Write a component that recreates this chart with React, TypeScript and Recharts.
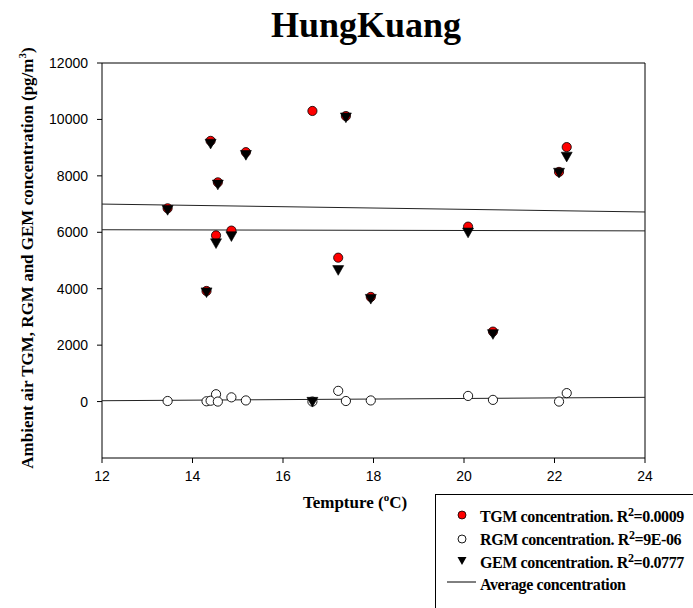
import React from "react";
import {
  ScatterChart,
  Scatter,
  XAxis,
  YAxis,
  ReferenceLine,
  Legend,
} from "recharts";

// Temperature (°C) of each sampling event
const temps = [13.45, 14.31, 14.4, 14.52, 14.56, 14.86, 15.18, 16.65, 17.22, 17.39, 17.94, 20.09, 20.64, 22.1, 22.27];
// Concentrations (pg/m3)
const tgm = [6850, 3920, 9240, 5890, 7770, 6060, 8840, 10300, 5100, 10120, 3710, 6200, 2480, 8140, 9020];
const rgm = [20, 10, 30, 260, 0, 150, 40, 0, 380, 20, 40, 200, 60, 0, 300];
const gem = [6800, 3880, 9150, 5620, 7700, 5870, 8750, 0, 4670, 10080, 3650, 6000, 2400, 8120, 8690];

// Average / trend lines (start and end values at x = 12 and x = 24)
const lineX = [12, 24];
const avgLineA = [7000, 6720];
const avgLineB = [6090, 6050];
const avgLineC = [30, 150];

const xTicks = [12, 14, 16, 18, 20, 22, 24];
const yTicks = [0, 2000, 4000, 6000, 8000, 10000, 12000];

const legendLabels = [
  { name: "TGM concentration. R", r2: "=0.0009" },
  { name: "RGM concentration. R", r2: "=9E-06" },
  { name: "GEM concentration. R", r2: "=0.0777" },
];

const toPoints = (xs: number[], ys: number[]) => xs.map((x, i) => ({ x, y: ys[i] }));

const tgmData = toPoints(temps, tgm);
const rgmData = toPoints(temps, rgm);
const gemData = toPoints(temps, gem);
const lineAData = toPoints(lineX, avgLineA);
const lineBData = toPoints(lineX, avgLineB);
const lineCData = toPoints(lineX, avgLineC);

const SERIF = "'Liberation Serif', 'Times New Roman', serif";
const SANS = "'Liberation Sans', Arial, sans-serif";

const RedDot = (p: any) => (
  <circle cx={p.cx} cy={p.cy} r={4.6} fill="#ff0000" stroke="#000" strokeWidth={0.8} />
);
const OpenDot = (p: any) => (
  <circle cx={p.cx} cy={p.cy} r={4.6} fill="#fff" stroke="#000" strokeWidth={0.9} />
);
const Tri = (p: any) => (
  <path
    d={`M${p.cx - 5.5},${p.cy - 4.2} L${p.cx + 5.5},${p.cy - 4.2} L${p.cx},${p.cy + 5.5} Z`}
    fill="#000"
    stroke="#000"
    strokeWidth={0.6}
  />
);
const NoShape = () => <g />;

const LegendBox = () => (
  <div
    style={{
      position: "absolute",
      left: 435,
      top: 494,
      width: 280,
      height: 140,
      border: "1px solid #000",
      boxSizing: "border-box",
      background: "#fff",
    }}
  >
    <svg width={280} height={140} style={{ position: "absolute", left: -1, top: -1 }}>
      <circle cx={27} cy={21} r={4} fill="#ff0000" stroke="#000" strokeWidth={0.8} />
      <circle cx={27} cy={45} r={4} fill="#fff" stroke="#000" strokeWidth={0.9} />
      <path d="M22.5,63 L31.5,63 L27,71 Z" fill="#000" />
      <line x1={12} x2={41} y1={88} y2={88} stroke="#000" strokeWidth={1} />
      {legendLabels.map((l, i) => (
        <text
          key={l.name}
          x={45}
          y={28 + i * 23}
          fontFamily={SERIF}
          fontWeight="bold"
          fontSize={16}
          letterSpacing={-0.4}
          fill="#000"
        >
          {l.name}
          <tspan fontSize={12} dy={-6}>2</tspan>
          <tspan dy={6}>{l.r2}</tspan>
        </text>
      ))}
      <text x={45} y={96} fontFamily={SERIF} fontWeight="bold" fontSize={16} letterSpacing={-0.4} fill="#000">
        Average concentration
      </text>
    </svg>
  </div>
);

export default function App() {
  return (
    <div
      style={{
        position: "absolute",
        left: 0,
        top: 0,
        width: 693,
        height: 608,
        overflow: "hidden",
        background: "#fff",
      }}
    >
      <div
        style={{
          position: "absolute",
          left: 266,
          top: 3,
          width: 200,
          textAlign: "center",
          fontFamily: SERIF,
          fontWeight: "bold",
          fontSize: 36,
          lineHeight: "44px",
          color: "#000",
        }}
      >
        HungKuang
      </div>
      <ScatterChart
        width={693}
        height={608}
        margin={{ top: 63, right: 48, bottom: 0, left: 0 }}
      >
        <XAxis
          type="number"
          dataKey="x"
          domain={[12, 24]}
          ticks={xTicks}
          allowDataOverflow
          height={150}
          tickSize={5}
          tickMargin={8}
          stroke="#000"
          tick={{ fill: "#000", fontSize: 14, fontFamily: SANS }}
          label={{
            content: () => (
              <text x={355} y={508} textAnchor="middle" fontFamily={SERIF} fontWeight="bold" fontSize={17} fill="#000">
                Tempture (
                <tspan fontSize={11} dy={-7}>o</tspan>
                <tspan dy={7}>C)</tspan>
              </text>
            ),
          }}
        />
        <YAxis
          type="number"
          dataKey="y"
          domain={[-2000, 12000]}
          ticks={yTicks}
          allowDataOverflow
          width={102}
          tickSize={5}
          tickMargin={9}
          stroke="#000"
          tick={{ fill: "#000", fontSize: 14, fontFamily: SANS }}
          label={{
            content: () => (
              <text
                x={33}
                y={258}
                transform="rotate(-90 33 258)"
                textAnchor="middle"
                fontFamily={SERIF}
                fontWeight="bold"
                fontSize={17}
                fill="#000"
              >
                Ambient air TGM, RGM and GEM concentration (pg/m
                <tspan fontSize={11} dy={-7}>3</tspan>
                <tspan dy={7}>)</tspan>
              </text>
            ),
          }}
        />
        <ReferenceLine y={12000} stroke="#000" strokeWidth={1} ifOverflow="visible" />
        <ReferenceLine x={24} stroke="#000" strokeWidth={1} ifOverflow="visible" />
        <Scatter data={lineAData} line={{ stroke: "#222", strokeWidth: 1 }} shape={NoShape} isAnimationActive={false} />
        <Scatter data={lineBData} line={{ stroke: "#222", strokeWidth: 1 }} shape={NoShape} isAnimationActive={false} />
        <Scatter data={lineCData} line={{ stroke: "#222", strokeWidth: 1 }} shape={NoShape} isAnimationActive={false} />
        <Scatter name="RGM" data={rgmData} shape={OpenDot} isAnimationActive={false} />
        <Scatter name="TGM" data={tgmData} shape={RedDot} isAnimationActive={false} />
        <Scatter name="GEM" data={gemData} shape={Tri} isAnimationActive={false} />
        <Legend content={() => <LegendBox />} wrapperStyle={{ position: "absolute", left: 0, top: 0, width: 0, height: 0 }} />
      </ScatterChart>
    </div>
  );
}
